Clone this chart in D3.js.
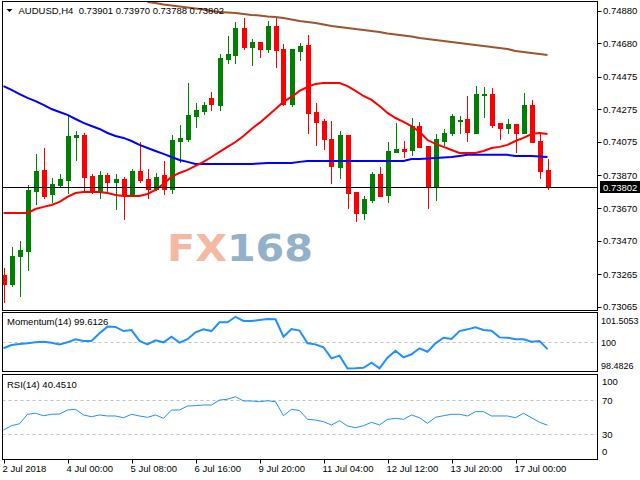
<!DOCTYPE html>
<html><head><meta charset="utf-8">
<script src="https://cdn.jsdelivr.net/npm/d3@7"></script>
<style>
html,body{margin:0;padding:0;background:#fff;}
svg text{font-family:"Liberation Sans",Arial,sans-serif;font-size:9.5px;fill:#000;}
</style></head>
<body><svg id="c" width="640" height="480"></svg>
<script>
// ---- data ----
const symbol = "AUDUSD,H4";
const lastQuote = ["0.73901","0.73970","0.73788","0.73802"];
const lastPrice = 0.73802;
const open  = [0.73260,0.73205,0.73376,0.73407,0.73775,0.73904,0.73756,0.73812,0.73842,0.74106,0.74118,0.73867,0.73769,0.73873,0.73830,0.73848,0.73756,0.73897,0.73848,0.73787,0.73873,0.73787,0.74081,0.74094,0.74235,0.74265,0.74345,0.74302,0.74584,0.74609,0.74774,0.74657,0.74688,0.74645,0.74786,0.74645,0.74308,0.74633,0.74670,0.74259,0.74204,0.74094,0.73922,0.74118,0.73769,0.73640,0.73720,0.73879,0.73750,0.74014,0.74032,0.74026,0.74173,0.74051,0.73806,0.74081,0.74130,0.74204,0.74216,0.74130,0.74363,0.74370,0.74192,0.74161,0.74185,0.74130,0.74302,0.74081,0.73901];
const high  = [0.73303,0.73432,0.73468,0.73812,0.74002,0.74038,0.73854,0.73879,0.74241,0.74143,0.74130,0.73879,0.73897,0.73885,0.73879,0.73861,0.73910,0.74075,0.73910,0.73885,0.73959,0.74118,0.74179,0.74437,0.74314,0.74321,0.74382,0.74615,0.74725,0.74811,0.74835,0.74707,0.74688,0.74817,0.74841,0.74676,0.74645,0.74682,0.74731,0.74314,0.74216,0.74204,0.74143,0.74118,0.73769,0.73744,0.73891,0.73922,0.74075,0.74192,0.74081,0.74222,0.74198,0.74051,0.74124,0.74155,0.74247,0.74235,0.74357,0.74418,0.74412,0.74406,0.74192,0.74216,0.74185,0.74376,0.74333,0.74130,0.73970];
const low   = [0.73094,0.73192,0.73131,0.73291,0.73695,0.73732,0.73708,0.73806,0.73762,0.73965,0.73775,0.73762,0.73732,0.73762,0.73664,0.73603,0.73750,0.73830,0.73732,0.73781,0.73756,0.73762,0.73953,0.74081,0.74167,0.74247,0.74271,0.74271,0.74559,0.74559,0.74645,0.74547,0.74596,0.74627,0.74535,0.74302,0.74296,0.74578,0.74130,0.74057,0.74032,0.73824,0.73854,0.73671,0.73591,0.73603,0.73708,0.73744,0.73708,0.74014,0.73983,0.73996,0.74045,0.73671,0.73720,0.74057,0.74118,0.74130,0.74081,0.74130,0.74228,0.74167,0.74094,0.74130,0.74014,0.74130,0.74075,0.73854,0.73788];
const close = [0.73205,0.73376,0.73413,0.73781,0.73897,0.73744,0.73818,0.73848,0.74112,0.74118,0.73861,0.73769,0.73873,0.73830,0.73848,0.73756,0.73897,0.73842,0.73787,0.73861,0.73787,0.74087,0.74100,0.74241,0.74271,0.74302,0.74308,0.74590,0.74615,0.74774,0.74657,0.74688,0.74645,0.74786,0.74639,0.74308,0.74645,0.74664,0.74253,0.74198,0.74094,0.73928,0.74118,0.73762,0.73640,0.73726,0.73879,0.73744,0.74020,0.74032,0.74020,0.74173,0.74045,0.73806,0.74094,0.74130,0.74235,0.74210,0.74137,0.74370,0.74370,0.74179,0.74161,0.74185,0.74130,0.74302,0.74075,0.73897,0.73802];
const maFast = [0.73640,0.73640,0.73640,0.73640,0.73664,0.73677,0.73689,0.73708,0.73738,0.73762,0.73769,0.73769,0.73769,0.73762,0.73750,0.73744,0.73744,0.73744,0.73756,0.73781,0.73818,0.73861,0.73885,0.73904,0.73928,0.73953,0.73983,0.74014,0.74045,0.74075,0.74112,0.74155,0.74192,0.74235,0.74277,0.74321,0.74351,0.74388,0.74412,0.74431,0.74437,0.74437,0.74437,0.74418,0.74388,0.74357,0.74333,0.74296,0.74253,0.74222,0.74198,0.74173,0.74137,0.74087,0.74063,0.74045,0.74026,0.74008,0.74008,0.74008,0.74020,0.74038,0.74045,0.74057,0.74081,0.74100,0.74124,0.74130,0.74124];
const maMid = [0.74418,0.74394,0.74369,0.74345,0.74326,0.74302,0.74277,0.74259,0.74241,0.74216,0.74192,0.74173,0.74155,0.74130,0.74112,0.74100,0.74081,0.74057,0.74038,0.74020,0.74002,0.73983,0.73965,0.73953,0.73940,0.73940,0.73940,0.73940,0.73940,0.73940,0.73940,0.73940,0.73943,0.73946,0.73946,0.73946,0.73946,0.73953,0.73959,0.73959,0.73959,0.73959,0.73959,0.73959,0.73959,0.73959,0.73959,0.73959,0.73959,0.73959,0.73959,0.73971,0.73971,0.73974,0.73977,0.73980,0.73983,0.73989,0.73996,0.73996,0.73996,0.73996,0.73996,0.73996,0.73989,0.73989,0.73989,0.73986,0.73983];
const maSlow = [null,null,null,null,null,null,null,null,null,null,null,null,null,null,null,null,null,null,0.74933,0.74927,0.74918,0.74912,0.74906,0.74900,0.74894,0.74887,0.74878,0.74872,0.74869,0.74866,0.74860,0.74854,0.74851,0.74844,0.74841,0.74835,0.74826,0.74817,0.74811,0.74805,0.74795,0.74786,0.74780,0.74774,0.74768,0.74762,0.74756,0.74749,0.74740,0.74734,0.74728,0.74722,0.74713,0.74707,0.74700,0.74694,0.74688,0.74682,0.74676,0.74670,0.74664,0.74657,0.74651,0.74645,0.74633,0.74627,0.74621,0.74615,0.74609];
const momentum = [99.66,99.85,99.91,99.95,100.01,100.05,99.99,99.89,100.01,100.19,100.09,100.09,100.54,100.93,100.91,100.67,100.73,100.09,99.89,100.13,100.01,100.34,99.99,100.19,100.60,100.77,100.67,101.18,101.18,101.5053,101.26,101.26,101.32,101.38,101.36,100.34,100.79,100.70,99.95,99.89,99.72,99.07,99.23,98.4826,98.49,98.52,98.82,98.49,99.11,99.52,99.13,99.31,99.66,99.46,99.95,100.28,100.21,100.67,100.77,100.89,100.73,100.69,100.30,100.28,100.19,100.19,100.05,100.09,99.6126];
const rsi = [34.8,39.9,42.2,53.4,54.6,51.7,53.4,53.7,58.5,59.3,52.6,50.5,52.6,51.4,51.4,49.3,53.4,51.4,49.8,52.6,48.6,58.5,58.5,63.2,63.6,64.4,64.4,70.3,71.2,74.3,69.2,69.2,68.3,69.5,68.3,51.7,59.3,57.9,47.4,46.6,44.6,40.7,45.8,39.5,37.5,39.9,43.9,40.7,47.4,48.6,47.4,52.6,49.3,42.7,49.8,51.7,53.4,53.4,51.4,56.5,56.5,51.4,51.4,51.4,49.3,54.6,49.3,43.9,40.451];
const priceTicks = ["0.74880","0.74680","0.74475","0.74275","0.74075","0.73870","0.73670","0.73470","0.73265","0.73065"];
const momTicks = ["101.5053","100","98.4826"];
const rsiTicks = ["100","70","30","0"];
const rsiLevels = [70,30];
const timeTickIdx = [0,8,16,24,32,40,48,56,64];
const timeLabels = ["2 Jul 2018","4 Jul 00:00","5 Jul 08:00","6 Jul 16:00","9 Jul 20:00","11 Jul 04:00","12 Jul 12:00","13 Jul 20:00","17 Jul 00:00"];

// ---- layout ----
const svg = d3.select("#c");
const L = 2.5, R = 597.5;
const mainP = {t:1.5, b:310.5}, momP = {t:312.5, b:371.5}, rsiP = {t:374.5, b:459.5};
const idx = d3.range(open.length);
const x = d3.scaleLinear().domain([0, open.length-1]).range([3.5, 547.5]);
const y = d3.scaleLinear().domain([0.73065, 0.74880]).range([306.7, 10.7]);
const ym = d3.scaleLinear().domain([98.4826, 101.5053]).range([368.4, 316.8]);
const yr = d3.scaleLinear().domain([0, 100]).range([459.3, 375]);

svg.append("rect").attr("width",640).attr("height",480).attr("fill","#fff");
const defs = svg.append("defs");
defs.append("clipPath").attr("id","cm").append("rect").attr("x",L).attr("y",mainP.t).attr("width",R-L).attr("height",mainP.b-mainP.t);

// watermark
const wm = svg.append("text").attr("x",167).attr("y",261)
  .attr("textLength",146).attr("lengthAdjust","spacingAndGlyphs")
  .style("font-family","'DejaVu Sans',sans-serif").style("font-weight","bold").style("font-size","38px");
wm.append("tspan").text("FX").style("fill","#f5b8a0");
wm.append("tspan").text("168").style("fill","#93b1c9");

const g = svg.append("g").attr("clip-path","url(#cm)");

// candles
const cx = i => Math.round(x(i));
const col = i => close[i] >= open[i] ? "#008000" : "#ff0000";
g.selectAll("line.wick").data(idx).join("line")
  .attr("x1", i=>cx(i)+0.5).attr("x2", i=>cx(i)+0.5)
  .attr("y1", i=>Math.round(y(high[i]))).attr("y2", i=>Math.round(y(low[i]))+1)
  .attr("stroke", col).attr("stroke-width",1);
g.selectAll("rect.body").data(idx).join("rect")
  .attr("x", i=>cx(i)-2).attr("width",5)
  .attr("y", i=>Math.round(y(Math.max(open[i],close[i]))))
  .attr("height", i=>Math.max(1, Math.round(y(Math.min(open[i],close[i]))) - Math.round(y(Math.max(open[i],close[i])))+1))
  .attr("fill", col);

// moving averages
const mk = (arr, yy) => d3.line().defined(i=>arr[i]!=null).x(i=>x(i)).y(i=>yy(arr[i]));
g.append("path").attr("d", mk(maSlow,y)(idx)).attr("fill","none").attr("stroke","#a0522d").attr("stroke-width",2);
g.append("path").attr("d", mk(maMid,y)(idx)).attr("fill","none").attr("stroke","#0000ff").attr("stroke-width",2);
g.append("path").attr("d", mk(maFast,y)(idx)).attr("fill","none").attr("stroke","#ff0000").attr("stroke-width",2);

// last price line
const yl = Math.round(y(lastPrice))+0.5;
svg.append("line").attr("x1",L).attr("x2",R).attr("y1",yl).attr("y2",yl).attr("stroke","#000").attr("stroke-width",1);

// title
svg.append("path").attr("d","M6.5,9 L12.5,9 L9.5,12 Z").attr("fill","#000");
svg.append("text").attr("x",18.5).attr("y",14).text(symbol + "  " + lastQuote.join(" ")).attr("xml:space","preserve");

// momentum panel
svg.append("line").attr("x1",L).attr("x2",R).attr("y1",Math.round(ym(100))+0.5).attr("y2",Math.round(ym(100))+0.5)
  .attr("stroke","#c0c0c0").attr("stroke-dasharray","3,3");
svg.append("path").attr("d", mk(momentum,ym)(idx)).attr("fill","none").attr("stroke","#1e90ff").attr("stroke-width",2);
svg.append("text").attr("x",7).attr("y",325).text("Momentum(14) " + momentum[momentum.length-1].toFixed(4));

// rsi panel
svg.selectAll("line.lv").data(rsiLevels).join("line")
  .attr("x1",L).attr("x2",R).attr("y1",d=>Math.round(yr(d))+0.5).attr("y2",d=>Math.round(yr(d))+0.5)
  .attr("stroke","#c0c0c0").attr("stroke-dasharray","3,3");
svg.append("path").attr("d", mk(rsi,yr)(idx)).attr("fill","none").attr("stroke","#1e90ff").attr("stroke-width",1);
svg.append("text").attr("x",7).attr("y",388).text("RSI(14) " + rsi[rsi.length-1].toFixed(4));

// panel borders
[mainP, momP, rsiP].forEach(p => {
  svg.append("rect").attr("x",L).attr("y",p.t).attr("width",R-L).attr("height",p.b-p.t)
    .attr("fill","none").attr("stroke","#000").attr("stroke-width",1);
});

// price axis
const pa = svg.append("g");
priceTicks.forEach(t => {
  const yy = y(+t);
  pa.append("line").attr("x1",R).attr("x2",R+4).attr("y1",Math.round(yy)+0.5).attr("y2",Math.round(yy)+0.5).attr("stroke","#000");
  pa.append("text").attr("x",603).attr("y",yy+3.5).text(t);
});
// last price tag
pa.append("rect").attr("x",600).attr("y",yl-6.5).attr("width",40).attr("height",12).attr("fill","#000");
pa.append("text").attr("x",603).attr("y",yl+3.5).text(lastPrice.toFixed(5)).style("fill","#fff");

// momentum axis
const momPos = [ym(+momTicks[0])+3.5, ym(+momTicks[1]), ym(+momTicks[2])-3];
momTicks.forEach((t,i) => {
  pa.append("text").attr("x",601).attr("y",momPos[i]+3.5).text(t).style("font-size","9px");
});
// rsi axis
const rsiPos = [yr(100)+6, yr(70), yr(30), yr(0)-7.5];
rsiTicks.forEach((t,i) => {
  pa.append("text").attr("x",602).attr("y",rsiPos[i]+3.5).text(t);
});

// time axis
timeTickIdx.forEach((k,i) => {
  const xx = cx(k)+0.5;
  svg.append("line").attr("x1",xx).attr("x2",xx).attr("y1",rsiP.b).attr("y2",rsiP.b+4).attr("stroke","#000");
  svg.append("text").attr("x",xx-2).attr("y",472).text(timeLabels[i]);
});
</script></body></html>
